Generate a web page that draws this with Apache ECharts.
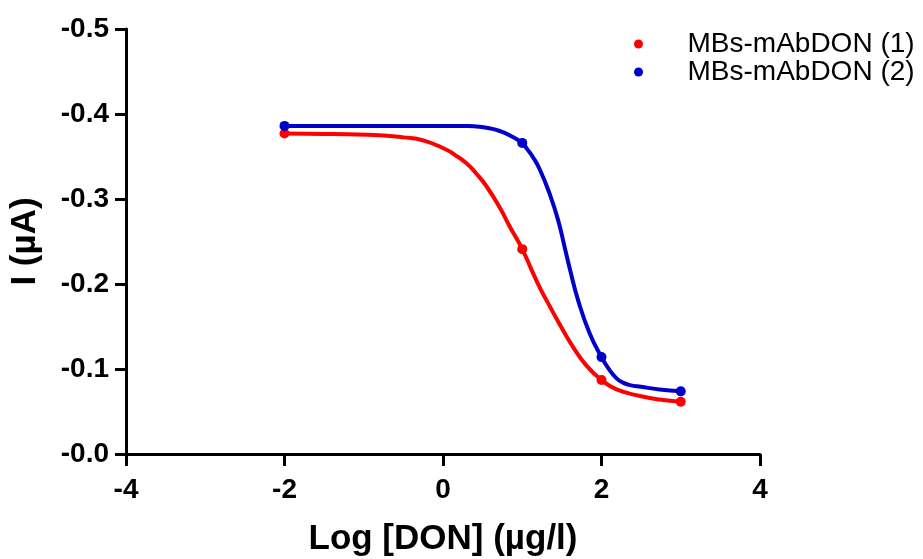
<!DOCTYPE html>
<html>
<head>
<meta charset="utf-8">
<script src="https://cdn.jsdelivr.net/npm/echarts@6/dist/echarts.min.js"></script>
<style>
html,body{margin:0;padding:0;background:#fff;}
#chart{width:923px;height:559px;}
</style>
</head>
<body>
<div id="chart"></div>
<script>
// Series names
var seriesNames = ['MBs-mAbDON (1)', 'MBs-mAbDON (2)'];
// Measured points: x = Log [DON], y = I (µA)
var pointsX = [-2, 1, 2, 3];
var points1 = [-0.377, -0.241, -0.087, -0.0615];
var points2 = [-0.386, -0.366, -0.114, -0.0737];
// Fitted curves
var curve1X = [-2, -1.5, -1.2, -0.8, -0.5, -0.25, 0.044, 0.15, 0.296, 0.42, 0.548, 0.716, 0.84, 1, 1.116, 1.22, 1.305, 1.47, 1.64, 1.81, 2, 2.19, 2.5, 2.73, 3];
var curve1Y = [-0.377, -0.3765, -0.3762, -0.375, -0.3725, -0.369, -0.358, -0.352, -0.342, -0.330, -0.315, -0.290, -0.268, -0.241, -0.217, -0.196, -0.181, -0.153, -0.126, -0.104, -0.087, -0.076, -0.068, -0.064, -0.0615];
var curve2X = [-2, -1, 0, 0.3, 0.46, 0.6, 0.716, 0.84, 1, 1.06, 1.13, 1.22, 1.35, 1.45, 1.536, 1.6, 1.704, 1.85, 2, 2.1, 2.19, 2.27, 2.36, 2.5, 2.73, 3];
var curve2Y = [-0.386, -0.386, -0.386, -0.3858, -0.385, -0.383, -0.380, -0.375, -0.366, -0.359, -0.350, -0.335, -0.305, -0.276, -0.243, -0.218, -0.181, -0.142, -0.114, -0.099, -0.089, -0.084, -0.081, -0.079, -0.076, -0.0737];
// Axis settings
var xTicks = [-4, -2, 0, 2, 4];
var yTicks = [-0.5, -0.4, -0.3, -0.2, -0.1, 0];
var xTitle = 'Log [DON] (\u00b5g/l)';
var yTitle = 'I (\u00b5A)';

var red = '#FF0000', blue = '#0000C8';
var font = "'Liberation Sans', Arial, sans-serif";

function zip(xs, ys) { return xs.map(function (x, i) { return [x, ys[i]]; }); }

var chart = echarts.init(document.getElementById('chart'), null, {renderer: 'canvas'});
chart.setOption({
  animation: false,
  backgroundColor: '#fff',
  grid: {left: 126, right: 163, top: 29, bottom: 105, containLabel: false, outerBoundsMode: 'none'},
  legend: {
    orient: 'vertical',
    left: 629, top: 25,
    itemWidth: 88, itemHeight: 9, itemGap: 0,
    icon: 'circle',
    data: seriesNames,
    itemStyle: {opacity: 1},
    textStyle: {fontFamily: font, fontSize: 28, color: '#000'}
  },
  xAxis: {
    type: 'value',
    min: xTicks[0], max: xTicks[xTicks.length - 1], interval: 2,
    name: xTitle, nameLocation: 'middle', nameGap: 68,
    nameTextStyle: {fontFamily: font, fontSize: 35, fontWeight: 'bold', color: '#000'},
    axisLine: {show: true, onZero: false, lineStyle: {color: '#000', width: 3}},
    axisTick: {show: true, length: 12, lineStyle: {color: '#000', width: 3}},
    axisLabel: {margin: 22, fontFamily: font, fontSize: 28, fontWeight: 'bold', color: '#000'},
    splitLine: {show: false}
  },
  yAxis: {
    type: 'value', inverse: true,
    min: yTicks[0], max: yTicks[yTicks.length - 1], interval: 0.1,
    name: yTitle, nameLocation: 'middle', nameGap: 83,
    nameTextStyle: {fontFamily: font, fontSize: 35, fontWeight: 'bold', color: '#000'},
    axisLine: {show: true, onZero: false, lineStyle: {color: '#000', width: 3}},
    axisTick: {show: true, length: 11, lineStyle: {color: '#000', width: 3}},
    axisLabel: {
      margin: 17, fontFamily: font, fontSize: 28, fontWeight: 'bold', color: '#000',
      formatter: function (v) { return Math.abs(v) < 1e-9 ? '-0.0' : v.toFixed(1); }
    },
    splitLine: {show: false}
  },
  series: [
    {name: seriesNames[0] + ' fit', type: 'line', data: zip(curve1X, curve1Y), smooth: true,
     showSymbol: false, lineStyle: {color: red, width: 4}, z: 2},
    {name: seriesNames[1] + ' fit', type: 'line', data: zip(curve2X, curve2Y), smooth: true,
     showSymbol: false, lineStyle: {color: blue, width: 4}, z: 2},
    {name: seriesNames[0], type: 'scatter', data: zip(pointsX, points1), symbol: 'circle', symbolSize: 10,
     itemStyle: {color: red, opacity: 1}, z: 3},
    {name: seriesNames[1], type: 'scatter', data: zip(pointsX, points2), symbol: 'circle', symbolSize: 10,
     itemStyle: {color: blue, opacity: 1}, z: 3}
  ]
});
</script>
</body>
</html>
